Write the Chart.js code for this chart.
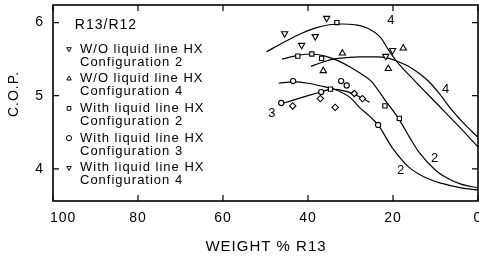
<!DOCTYPE html>
<html>
<head>
<meta charset="utf-8">
<script src="https://cdn.jsdelivr.net/npm/chart.js@4.4.1/dist/chart.umd.min.js"></script>
<style>
  html, body { margin: 0; padding: 0; background: #fff; overflow: hidden; }
  #wrap { width: 479px; height: 257px; }
</style>
</head>
<body>
<div id="wrap"><canvas id="cop"></canvas></div>
<script>
// axis ticks
const xTicks = [100, 80, 60, 40, 20, 0];
const yTicks = [4, 5, 6];

// fitted curves, x = weight % R13, y = C.O.P.
const curveAX = [49.8, 46, 42, 38, 35, 32, 29, 26.3, 23, 21, 19, 15, 10, 5, 0];
const curveAY = [5.60, 5.72, 5.84, 5.93, 5.97, 5.98, 5.97, 5.93, 5.80, 5.62, 5.46, 5.21, 4.91, 4.61, 4.30];
const curveBX = [39.3, 37, 34, 31, 28, 24, 21, 19, 16, 13.5, 11.5, 9, 6.1, 3, 0];
const curveBY = [5.40, 5.45, 5.50, 5.52, 5.53, 5.53, 5.51, 5.47, 5.39, 5.29, 5.19, 5.02, 4.80, 4.60, 4.43];
const curveCX = [46.1, 42.4, 39, 36, 33, 30, 27, 25, 22, 18.5, 16, 13.8, 10, 7.5, 4, 0];
const curveCY = [5.50, 5.55, 5.57, 5.54, 5.48, 5.39, 5.28, 5.19, 4.95, 4.67, 4.42, 4.22, 3.98, 3.88, 3.79, 3.74];
const curveDX = [46.9, 43.5, 40, 36, 33, 30, 27.9, 25.5, 23.5, 20.2, 16.2, 12, 8.5, 4, 0];
const curveDY = [5.17, 5.19, 5.17, 5.12, 5.07, 4.97, 4.84, 4.72, 4.60, 4.29, 4.02, 3.87, 3.80, 3.74, 3.71];
const curveEX = [46.8, 44, 40, 37, 34.5, 31, 28, 25.5];
const curveEY = [4.88, 4.93, 5.00, 5.05, 5.09, 5.06, 4.99, 4.91];

// measured points
const woConf2X = [41.5, 21.7];
const woConf2Y = [5.69, 5.54];
const woConf4X = [31.9, 36.4, 17.6, 21.1];
const woConf4Y = [5.58, 5.34, 5.65, 5.37];
const wConf2X = [42.4, 39.1, 36.8, 33.2, 34.7, 21.9, 18.5];
const wConf2Y = [5.54, 5.57, 5.51, 6.00, 5.09, 4.86, 4.69];
const wConf3X = [46.3, 43.5, 36.9, 32.2, 30.9, 23.5];
const wConf3Y = [4.90, 5.20, 5.05, 5.20, 5.14, 4.60];
const wConf4X = [45.5, 38.3, 35.6, 20.1];
const wConf4Y = [5.85, 5.81, 6.06, 5.62];
const extraX = [43.6, 37.1, 33.6, 29.1, 27.2];
const extraY = [4.86, 4.96, 4.84, 5.03, 4.96];

// curve tags
const tagText = ['4', '4', '2', '2', '3'];
const tagX = [20.4, 7.5, 10.1, 18.1, 48.4];
const tagY = [6.03, 5.08, 4.14, 3.98, 4.76];

const legendTitle = 'R13/R12';
const legendLines = [
  ['W/O liquid line HX', 'Configuration 2'],
  ['W/O liquid line HX', 'Configuration 4'],
  ['With liquid line HX', 'Configuration 2'],
  ['With liquid line HX', 'Configuration 3'],
  ['With liquid line HX', 'Configuration 4']
];

const FONT = '"Liberation Sans", Arial, sans-serif';
const pts = (xs, ys) => xs.map((v, i) => ({ x: v, y: ys[i] }));

function curve(xs, ys) {
  return {
    data: pts(xs, ys), showLine: true, pointRadius: 0, borderColor: '#000',
    borderWidth: 1.2, cubicInterpolationMode: 'monotone', fill: false, order: 2
  };
}
function marks(xs, ys, style, r, rot) {
  return {
    data: pts(xs, ys), showLine: false, pointStyle: style, pointRadius: r,
    pointRotation: rot || 0, pointBackgroundColor: '#fff', pointBorderColor: '#000',
    pointBorderWidth: 1.1, order: 1
  };
}

const markerStyles = [
  { pointStyle: 'triangle', rotation: 180 },
  { pointStyle: 'triangle', rotation: 0 },
  { pointStyle: 'rect', rotation: 0 },
  { pointStyle: 'circle', rotation: 0 },
  { pointStyle: 'triangle', rotation: 180 }
];

const decor = {
  id: 'decor',
  beforeDraw(chart) { chart.ctx.letterSpacing = '1px'; },
  afterDraw(chart) {
    const { ctx, chartArea: a, scales: { x, y } } = chart;
    ctx.save();
    ctx.strokeStyle = '#000';
    ctx.lineWidth = 1.6;
    ctx.strokeRect(a.left, a.top, a.right - a.left, a.bottom - a.top);

    // inward tick marks on all four sides
    ctx.lineWidth = 1.2;
    ctx.beginPath();
    xTicks.forEach(v => {
      const p = x.getPixelForValue(v);
      ctx.moveTo(p, a.bottom); ctx.lineTo(p, a.bottom - 6);
      ctx.moveTo(p, a.top); ctx.lineTo(p, a.top + 6);
    });
    yTicks.forEach(v => {
      const p = y.getPixelForValue(v);
      ctx.moveTo(a.left, p); ctx.lineTo(a.left + 6, p);
      ctx.moveTo(a.right, p); ctx.lineTo(a.right - 6, p);
    });
    ctx.stroke();

    // tick labels
    ctx.fillStyle = '#000';
    ctx.textBaseline = 'middle';
    ctx.font = '14px ' + FONT;
    xTicks.forEach((v, i) => {
      const p = x.getPixelForValue(v);
      ctx.textAlign = i === 0 ? 'left' : 'center';
      ctx.fillText(String(v), i === 0 ? p - 3 : p, 218);
    });
    ctx.textAlign = 'right';
    yTicks.forEach(v => ctx.fillText(String(v), 44, y.getPixelForValue(v)));

    ctx.textAlign = 'center';
    ctx.font = '13px ' + FONT;
    tagText.forEach((t, i) => ctx.fillText(t, x.getPixelForValue(tagX[i]), y.getPixelForValue(tagY[i])));

    // legend block
    ctx.font = '14px ' + FONT;
    ctx.fillText(legendTitle, 106, 25);
    ctx.font = '13px ' + FONT;
    ctx.textAlign = 'left';
    legendLines.forEach((pair, g) => {
      const y0 = 49 + g * 29.7;
      ctx.fillText(pair[0], 80, y0);
      ctx.fillText(pair[1], 80, y0 + 13);
      ctx.fillStyle = '#fff';
      ctx.strokeStyle = '#000';
      ctx.lineWidth = 1;
      Chart.helpers.drawPoint(ctx, {
        pointStyle: markerStyles[g].pointStyle, rotation: markerStyles[g].rotation,
        radius: 2.6, borderWidth: 1
      }, 69, y0);
      ctx.fillStyle = '#000';
    });

    // axis titles
    ctx.textAlign = 'center';
    ctx.font = '15px ' + FONT;
    ctx.fillText('WEIGHT % R13', 266, 247);
    ctx.save();
    ctx.translate(14, 94);
    ctx.rotate(-Math.PI / 2);
    ctx.font = '14px ' + FONT;
    ctx.fillText('C.O.P.', 0, 0);
    ctx.restore();
    ctx.restore();
  }
};

new Chart(document.getElementById('cop'), {
  type: 'scatter',
  data: {
    datasets: [
      curve(curveAX, curveAY),
      curve(curveBX, curveBY),
      curve(curveCX, curveCY),
      curve(curveDX, curveDY),
      curve(curveEX, curveEY),
      marks(woConf2X, woConf2Y, 'triangle', 3.6, 180),
      marks(woConf4X, woConf4Y, 'triangle', 3.6, 0),
      marks(wConf2X, wConf2Y, 'rect', 3.0),
      marks(wConf3X, wConf3Y, 'circle', 2.6),
      marks(wConf4X, wConf4Y, 'triangle', 3.6, 180),
      marks(extraX, extraY, 'rectRot', 3.2)
    ]
  },
  options: {
    responsive: true,
    maintainAspectRatio: false,
    animation: false,
    layout: { autoPadding: false, padding: { top: 5, right: 1, left: 0, bottom: 0 } },
    plugins: { legend: { display: false }, tooltip: { enabled: false } },
    scales: {
      x: {
        type: 'linear', reverse: true, min: 0, max: 100,
        afterBuildTicks: s => { s.ticks = xTicks.map(v => ({ value: v })); },
        afterFit: s => { s.height = 56; },
        grid: { display: false },
        border: { display: false },
        ticks: { display: false }
      },
      y: {
        type: 'linear', min: 3.56, max: 6.24,
        afterBuildTicks: s => { s.ticks = yTicks.map(v => ({ value: v })); },
        afterFit: s => { s.width = 53; },
        grid: { display: false },
        border: { display: false },
        ticks: { display: false }
      }
    }
  },
  plugins: [decor]
});
</script>
</body>
</html>
